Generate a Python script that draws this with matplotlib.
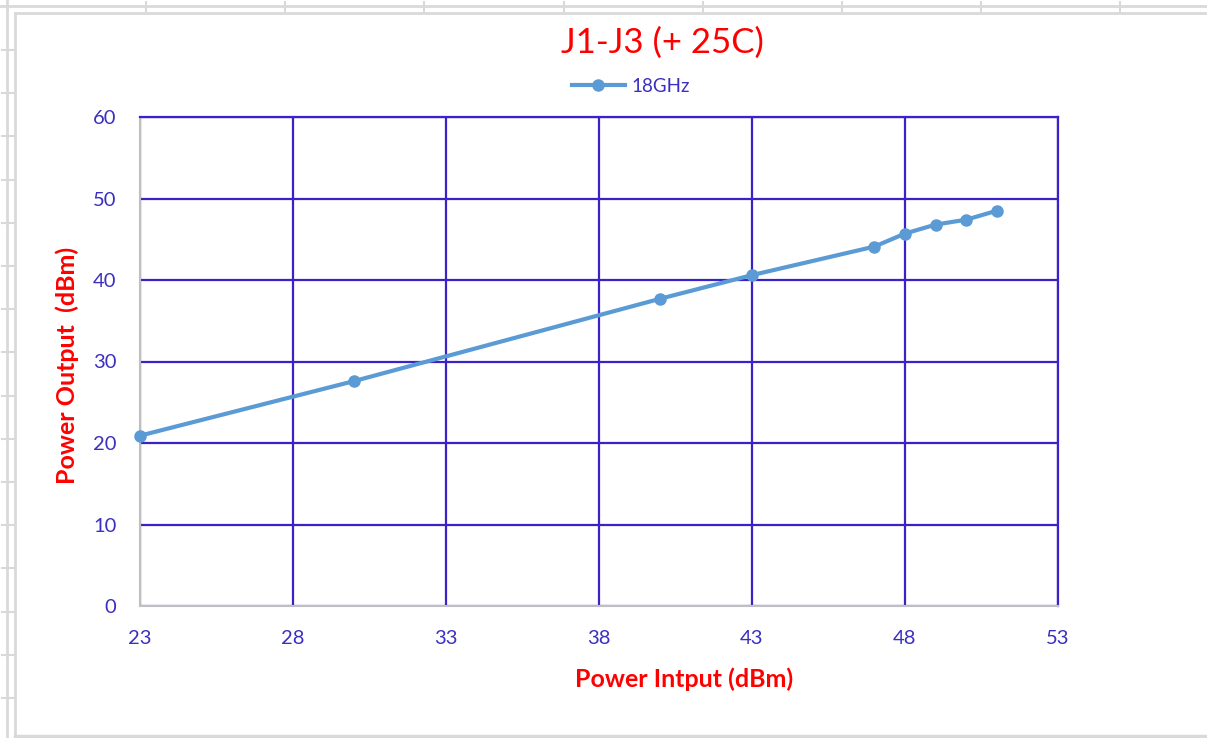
"""Power output vs power input, J1-J3 at +25C"""

import matplotlib
matplotlib.use('Agg')
import matplotlib.pyplot as plt
from matplotlib.lines import Line2D

plt.rcParams['font.family'] = ['Lato', 'DejaVu Sans']

# ############################################################################ #
# Data #

lPin = [23, 30, 40, 43, 47, 48, 49, 50, 51]
lPout = [20.9, 27.6, 37.7, 40.6, 44.1, 45.7, 46.8, 47.4, 48.5]
lXTicks = [23, 28, 33, 38, 43, 48, 53]
lYTicks = [0, 10, 20, 30, 40, 50, 60]
sSeries = '18GHz'

W, H = 1207, 738
sGrid = '#3B22C8'
sTick = '#3A2FC0'
sLine = '#5B9BD5'
sRed = '#FF0000'
sSheet = '#D9D9D9'


def fx(px): return px / W
def fy(py): return 1 - py / H


fig = plt.figure(figsize=(W / 100, H / 100), dpi=100)
ax = fig.add_axes([fx(140), fy(606), fx(1058) - fx(140), fy(117) - fy(606)])

# Spreadsheet background bits (cell lines behind the chart object)
def hline(y, x0, x1, lw=2.0):
	fig.add_artist(Line2D([fx(x0), fx(x1)], [fy(y), fy(y)], color=sSheet, lw=lw,
		transform=fig.transFigure))

def vline(x, y0, y1, lw=2.0):
	fig.add_artist(Line2D([fx(x), fx(x)], [fy(y0), fy(y1)], color=sSheet, lw=lw,
		transform=fig.transFigure))

hline(6, 0, W)
vline(7, 0, H)
for x in [146, 285, 424, 564, 703, 842, 981, 1120]:
	vline(x, 2, 11, lw=1.5)
for i in range(17):
	y = 50 + 43.2 * i
	hline(y, 2, 13, lw=1.5)
# chart frame
hline(13, 15, W)
vline(15, 13, 736)
hline(735.5, 15, W, lw=2.5)

ax.plot(lPin, lPout, '-o', color=sLine, lw=3, ms=8, label=sSeries,
	clip_on=False, zorder=3)

ax.set_xlim(23, 53)
ax.set_ylim(0, 60)
ax.set_xticks(lXTicks)
ax.set_yticks(lYTicks)
ax.set_axisbelow(True)
ax.grid(True, color=sGrid, lw=1.6)
ax.tick_params(length=0, colors=sTick, labelsize=14.5)
ax.tick_params(axis='x', pad=17)
ax.tick_params(axis='y', pad=17)
for s in ['left', 'bottom']:
	ax.spines[s].set_color('#BFBFBF')
	ax.spines[s].set_linewidth(1.5)
for s in ['top', 'right']:
	ax.spines[s].set_color(sGrid)
	ax.spines[s].set_linewidth(1.6)

# axis label positions in axes fraction, from pixel spots
def ax_frac(px, py):
	return ((fx(px) - fx(140)) / (fx(1058) - fx(140)),
		(fy(py) - fy(606)) / (fy(117) - fy(606)))

ax.set_xlabel('Power Intput (dBm)', color=sRed, fontsize=18,
	fontweight='bold', va='center')
ax.xaxis.set_label_coords(*ax_frac(684, 679))
ax.set_ylabel('Power Output  (dBm)', color=sRed, fontsize=18,
	fontweight='bold', va='center')
ax.yaxis.set_label_coords(*ax_frac(67, 365))

fig.text(fx(662), fy(43), 'J1-J3 (+ 25C)', color=sRed, fontsize=25,
	ha='center', va='center')

leg = fig.legend(loc='center', bbox_to_anchor=(fx(631), fy(86)), frameon=False,
	handlelength=2.8, fontsize=13.5, handletextpad=0.35)
for t in leg.get_texts():
	t.set_color(sTick)

fig.savefig('out.png', dpi=100)
